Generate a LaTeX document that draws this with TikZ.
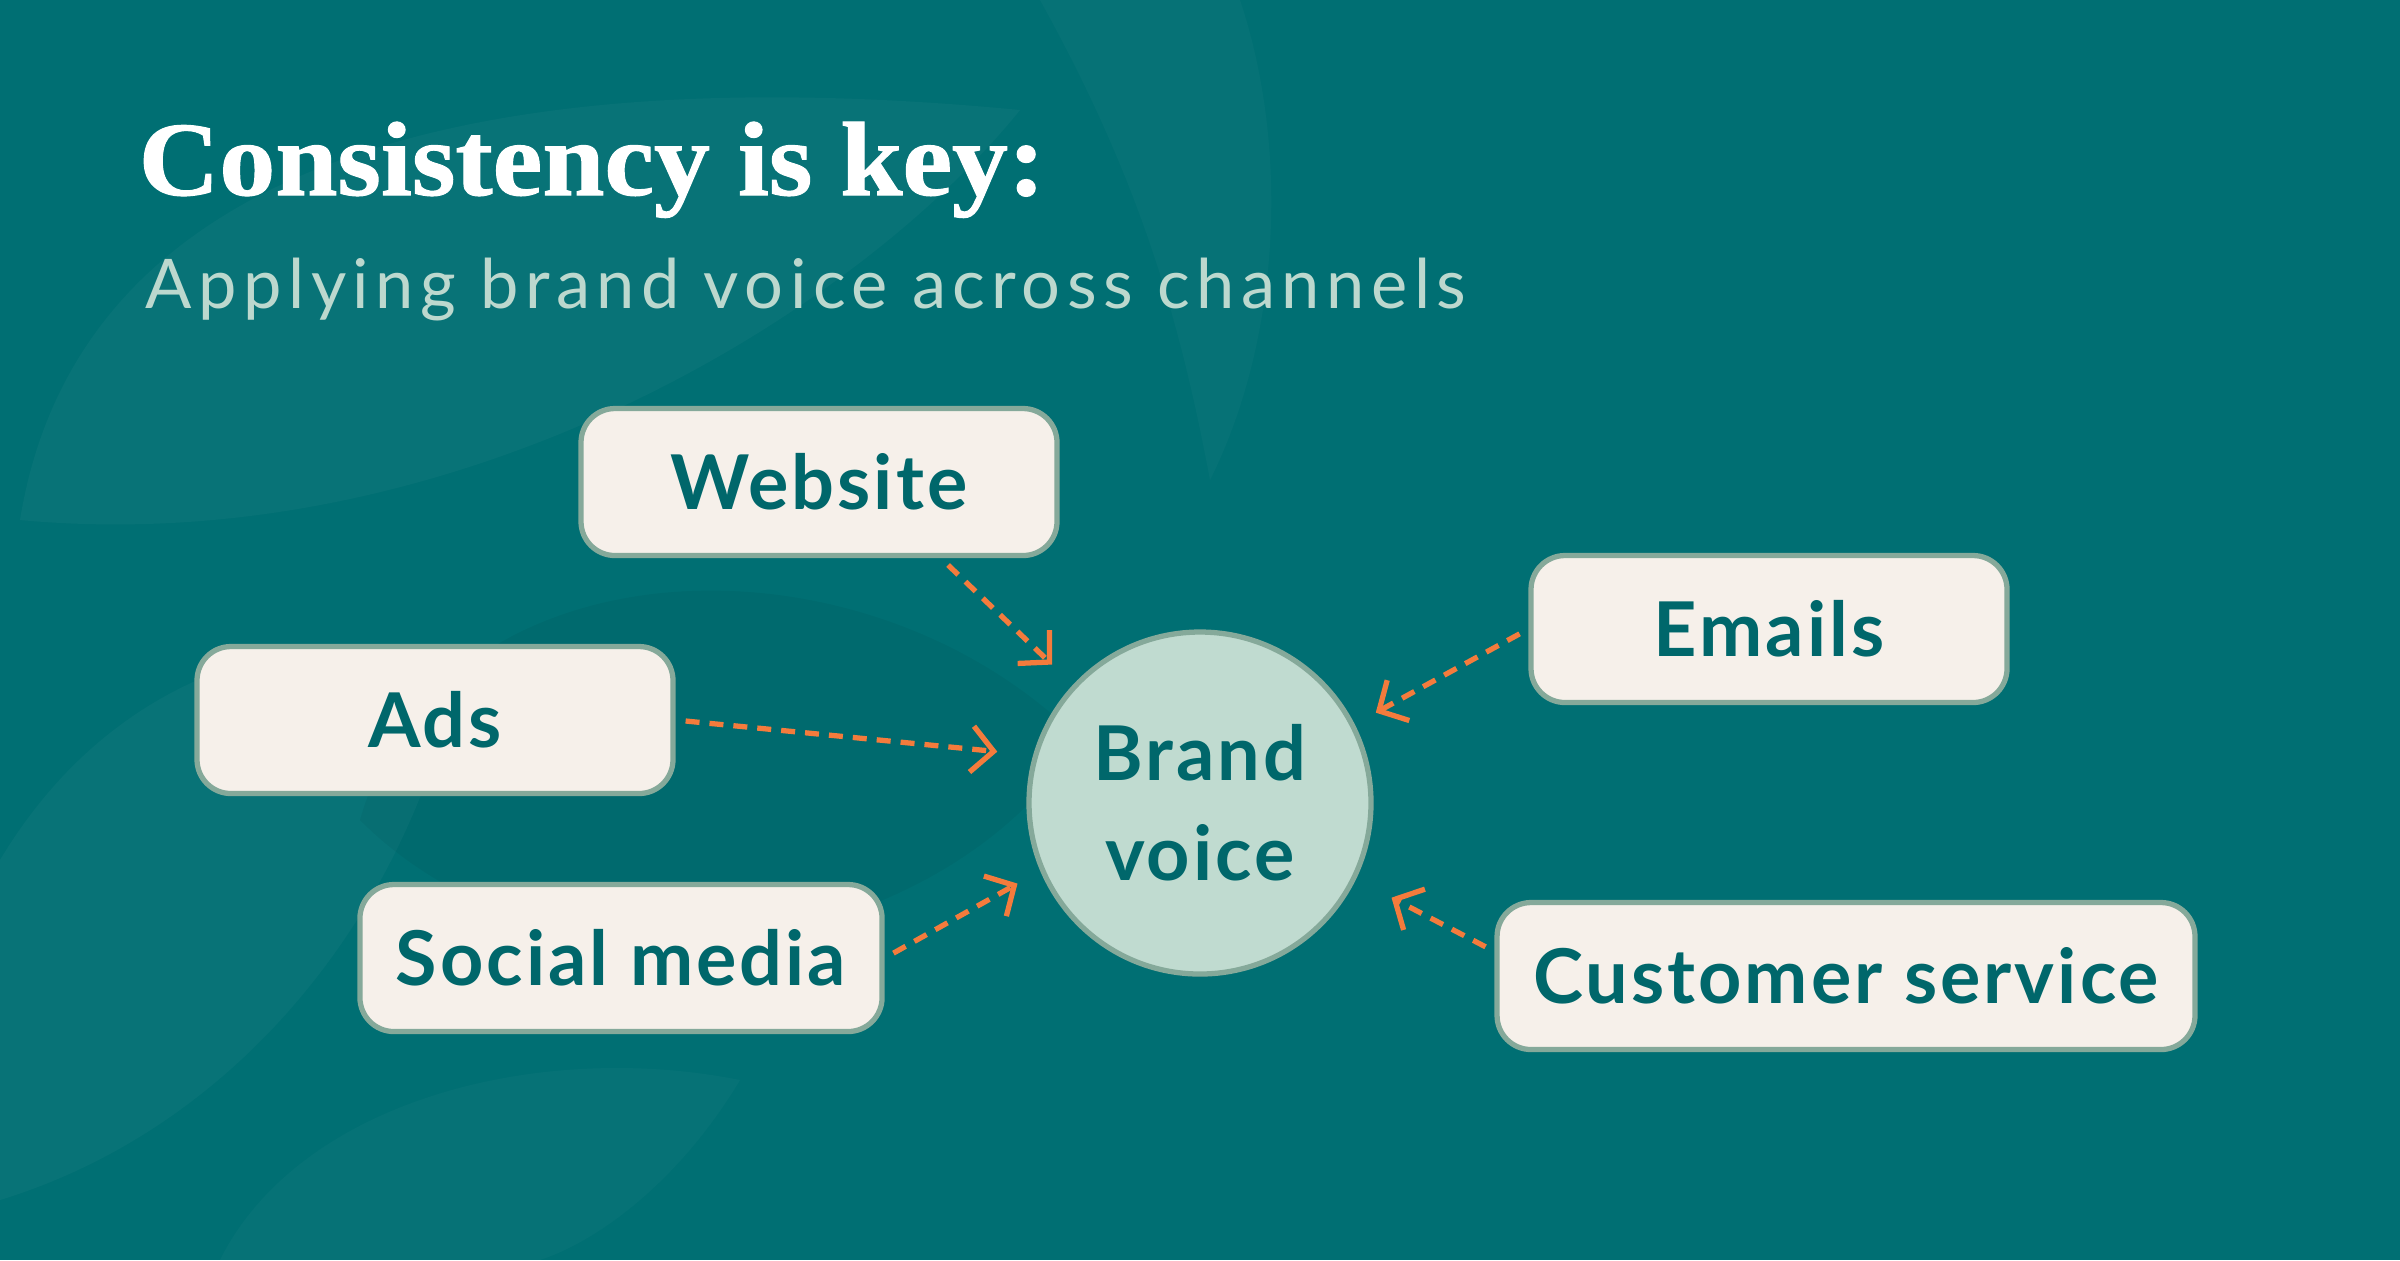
\documentclass[tikz,border=0pt]{standalone}
\usepackage{fontspec}
\setmainfont{Lato}
\newfontfamily\titlefont{Liberation Serif}[FakeStretch=1.06,FakeBold=1]
\newfontfamily\boxfont{Lato}[LetterSpace=4]
\newfontfamily\subfont{Lato}[LetterSpace=9.5]
\usepackage{xcolor}
\usetikzlibrary{arrows.meta}

\definecolor{bgteal}{HTML}{006F73}
\definecolor{boxfill}{HTML}{F6F0EA}
\definecolor{boxline}{HTML}{85A99A}
\definecolor{inkteal}{HTML}{00676B}
\definecolor{circfill}{HTML}{C0DBD0}
\definecolor{arroworange}{HTML}{F47B3C}
\definecolor{subink}{HTML}{BCD8CE}

\tikzset{
  channel/.style={draw=boxline, line width=1.5pt, fill=boxfill, rounded corners=0.34cm,
    minimum width=4.76cm, minimum height=1.47cm, inner xsep=0.36cm,
    text=inkteal, font=\boxfont\fontsize{21.5}{26}\selectfont\bfseries},
  hub/.style={circle, draw=boxline, line width=1.5pt, fill=circfill, minimum size=3.42cm,
    align=center, text=inkteal, font=\boxfont\fontsize{21.5}{28.5}\selectfont\bfseries},
  flowline/.style={draw=arroworange, line width=1.5pt, dash pattern=on 0.14cm off 0.1cm,
    -{Straight Barb[length=2.2mm,width=4.6mm]}, shorten <=0.1cm}
}

\begin{document}
\begin{tikzpicture}
  % background and faint leaves
  \fill[bgteal] (0,0) rectangle (24,-12.6);
  \fill[white,opacity=0.03] (0.2,-5.2) .. controls (0.8,-1.5) and (5,-0.6) .. (10.2,-1.1)
    .. controls (8.5,-3.2) and (4.5,-5.6) .. (0.2,-5.2);
  \fill[white,opacity=0.025] (10.4,0) .. controls (11.4,-1.8) and (11.8,-3.2) .. (12.1,-4.8)
    .. controls (12.8,-3.4) and (12.9,-1.5) .. (12.4,0) -- cycle;
  \fill[white,opacity=0.03] (0,-8.6) .. controls (1.2,-6.6) and (3.2,-6.2) .. (4.6,-6.6)
    .. controls (4.2,-8.8) and (2.6,-11.2) .. (0,-12) -- cycle;
  \fill[black,opacity=0.04] (3.6,-8.2) .. controls (4.4,-5.4) and (8.6,-5.2) .. (10.8,-7.4)
    .. controls (9.4,-9.6) and (5.6,-10.2) .. (3.6,-8.2);
  \fill[white,opacity=0.025] (2.2,-12.6) .. controls (3,-11) and (5.4,-10.4) .. (7.4,-10.8)
    .. controls (6.8,-11.8) and (6,-12.4) .. (5.4,-12.6) -- cycle;

  % title
  \node[anchor=base west, inner sep=0pt, text=white,
    font=\titlefont\bfseries\fontsize{30}{36}\selectfont] (title) at (1.38,-1.95)
    {Consistency is key:};
  \node[anchor=base west, inner sep=0pt, text=subink,
    font=\subfont\fontsize{19.5}{23}\selectfont] (subtitle) at (1.45,-3.08)
    {Applying brand voice across channels};

  % channels and hub
  \node[hub] (brand) at (12.00,-8.03) {Brand\\voice};
  \node[channel] (web) at (8.19,-4.82) {Website};
  \node[channel] (ads) at (4.35,-7.20) {Ads};
  \node[channel] (social) at (6.21,-9.58) {Social media};
  \node[channel] (emails) at (17.69,-6.29) {Emails};
  \node[channel] (cs) at (18.46,-9.76) {Customer service};

  % arrows into the hub
  \draw[flowline, shorten >=0.29cm] (web.-32) -- (brand.137);
  \draw[flowline, shorten >=0.36cm] (ads.east) -- (brand.164);
  \draw[flowline, shorten >=0.26cm] (social.east) -- (brand.203);
  \draw[flowline, shorten >=0.24cm] (emails.west) -- (brand.27);
  \draw[flowline, shorten >=0.40cm] (cs.176) -- (brand.-26);
\end{tikzpicture}
\end{document}
